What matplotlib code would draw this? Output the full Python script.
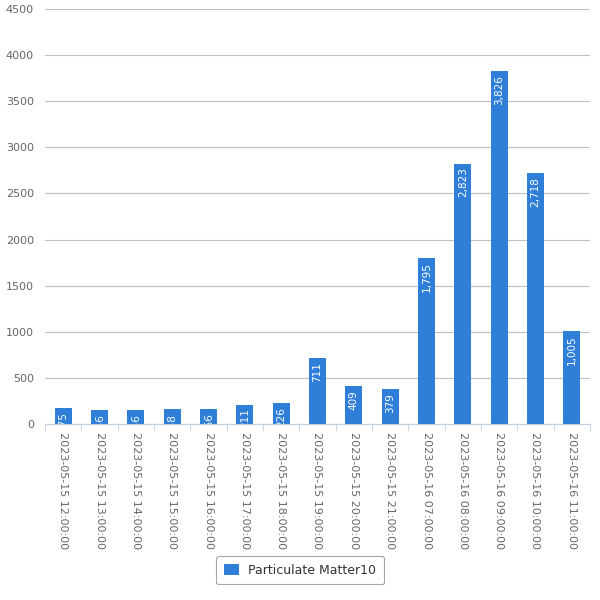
import matplotlib.pyplot as plt
from matplotlib.patches import FancyBboxPatch

# data
times = ["2023-05-15 12:00:00", "2023-05-15 13:00:00", "2023-05-15 14:00:00",
         "2023-05-15 15:00:00", "2023-05-15 16:00:00", "2023-05-15 17:00:00",
         "2023-05-15 18:00:00", "2023-05-15 19:00:00", "2023-05-15 20:00:00",
         "2023-05-15 21:00:00", "2023-05-16 07:00:00", "2023-05-16 08:00:00",
         "2023-05-16 09:00:00", "2023-05-16 10:00:00", "2023-05-16 11:00:00"]
pm10 = [175, 156, 156, 158, 166, 211, 226, 711, 409, 379, 1795, 2823, 3826, 2718, 1005]
series_name = "Particulate Matter10"

plt.rcParams['font.family'] = ['DejaVu Sans']
fig = plt.figure(figsize=(6, 6), dpi=100)
ax = fig.add_axes([45 / 600, 1 - 424 / 600, 545 / 600, 415 / 600])

x = list(range(len(times)))
bars = ax.bar(x, pm10, width=0.47, color='#2f7ed8', zorder=3, label=series_name)

for xi, v in zip(x, pm10):
    ax.text(xi, v - 40, f"{v:,}", rotation=90, ha='center', va='top',
            color='white', fontsize=7.5, zorder=4, clip_on=True)

ax.set_xlim(-0.5, len(times) - 0.5)
ax.set_ylim(0, 4500)
ax.set_yticks(range(0, 4501, 500))
ax.yaxis.grid(True, color='#c0c0c0', linewidth=0.8)
ax.set_axisbelow(True)
for s in ['left', 'right', 'top']:
    ax.spines[s].set_visible(False)
ax.spines['bottom'].set_color('#c0d0e0')
ax.tick_params(axis='y', length=0, labelsize=8, labelcolor='#666666', pad=8)

# category labels, tick marks between categories
ax.set_xticks(x)
ax.set_xticklabels(times, rotation=-90, fontsize=8, color='#666666')
ax.tick_params(axis='x', which='major', length=0, pad=6)
ax.set_xticks([i - 0.5 for i in range(len(times) + 1)], minor=True)
ax.tick_params(axis='x', which='minor', length=5, color='#c0d0e0')

leg = fig.legend(handles=[bars], labels=[series_name], loc='center',
                 bbox_to_anchor=(300 / 600, 1 - 570 / 600), frameon=True,
                 fontsize=9, handlelength=1.2, handleheight=1.0,
                 borderpad=0.6, fancybox=True)
leg.get_frame().set_edgecolor('#909090')
leg.get_frame().set_linewidth(0.8)
for t in leg.get_texts():
    t.set_color('#333333')

fig.savefig('out.png', dpi=100)
